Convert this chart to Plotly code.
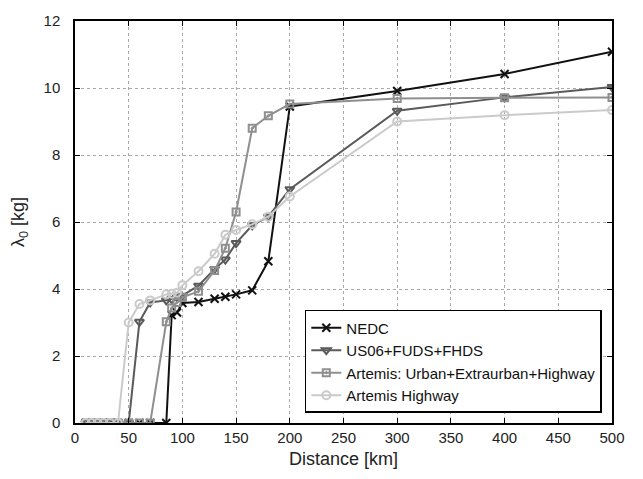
import plotly.graph_objects as go

x0 = [10, 15.5, 21, 26.5, 32.5, 40]

nedc_x = x0 + [50, 60, 70, 85, 90, 95, 100, 115, 130, 140, 150, 165, 180, 200, 300, 400, 500]
nedc_y = [0]*6 + [0, 0, 0, 0, 3.22, 3.3, 3.58, 3.61, 3.71, 3.77, 3.84, 3.96, 4.83, 9.45, 9.91, 10.42, 11.08]

us06_x = x0 + [50, 60, 70, 85, 90, 95, 100, 115, 130, 140, 150, 165, 180, 200, 300, 400, 500]
us06_y = [0]*6 + [0, 3.02, 3.6, 3.66, 3.7, 3.75, 3.8, 4.1, 4.6, 4.88, 5.37, 5.9, 6.16, 6.98, 9.32, 9.72, 10.03]

art_x = x0 + [50, 60, 70, 85, 90, 95, 100, 115, 130, 140, 150, 165, 180, 200, 300, 400, 500]
art_y = [0]*6 + [0, 0, 0, 3.02, 3.43, 3.6, 3.75, 3.93, 4.55, 5.22, 6.3, 8.8, 9.17, 9.52, 9.69, 9.71, 9.72]

hw_x = x0 + [50, 60, 70, 85, 90, 95, 100, 115, 130, 140, 150, 165, 180, 200, 300, 400, 500]
hw_y = [0]*6 + [3.0, 3.55, 3.66, 3.84, 3.86, 3.89, 4.11, 4.53, 5.05, 5.62, 5.76, 5.93, 6.16, 6.76, 9.0, 9.19, 9.34]

names = ["NEDC", "US06+FUDS+FHDS", "Artemis: Urban+Extraurban+Highway", "Artemis Highway"]
colors = ["#111111", "#5a5a5a", "#8f8f8f", "#cacaca"]
symbols = ["x-thin-open", "triangle-down-open", "square-open-dot", "circle-open"]
sizes = [8, 8, 7, 8]

fig = go.Figure()
for xs, ys, nm, c, s, sz in zip([nedc_x, us06_x, art_x, hw_x], [nedc_y, us06_y, art_y, hw_y],
                                names, colors, symbols, sizes):
    fig.add_trace(go.Scatter(x=xs, y=ys, name=nm, mode="lines+markers",
                             line=dict(color=c, width=2),
                             marker=dict(symbol=s, size=sz, color=c, line=dict(color=c, width=2))))

font = "Liberation Sans, Arial, sans-serif"
axis_common = dict(showline=True, linecolor="black", linewidth=1.5, mirror="allticks",
                   ticks="inside", ticklen=5, tickcolor="black",
                   showgrid=True, gridcolor="#aaaaaa", griddash="dot", gridwidth=1,
                   zeroline=False, tickfont=dict(family=font, size=15, color="#222"))
fig.update_xaxes(range=[0, 500], tickvals=list(range(0, 501, 50)),
                 title=dict(text="Distance [km]", font=dict(family=font, size=18, color="#222"), standoff=8),
                 **axis_common)
fig.update_yaxes(range=[0, 12], tickvals=list(range(0, 13, 2)), ticklabelstandoff=10,
                 title=dict(text="λ<sub>0</sub> [kg]", font=dict(family=font, size=18, color="#222"), standoff=14),
                 **axis_common)
fig.update_layout(width=643, height=479, margin=dict(l=75, r=31, t=18, b=56),
                  plot_bgcolor="white", paper_bgcolor="white",
                  font=dict(family=font),
                  legend=dict(x=0.981, y=0.025, xanchor="right", yanchor="bottom",
                              bgcolor="white", bordercolor="black", borderwidth=1.5,
                              font=dict(family=font, size=15, color="#111"),
                              tracegroupgap=0, itemwidth=30))
fig.write_html("out.html")
